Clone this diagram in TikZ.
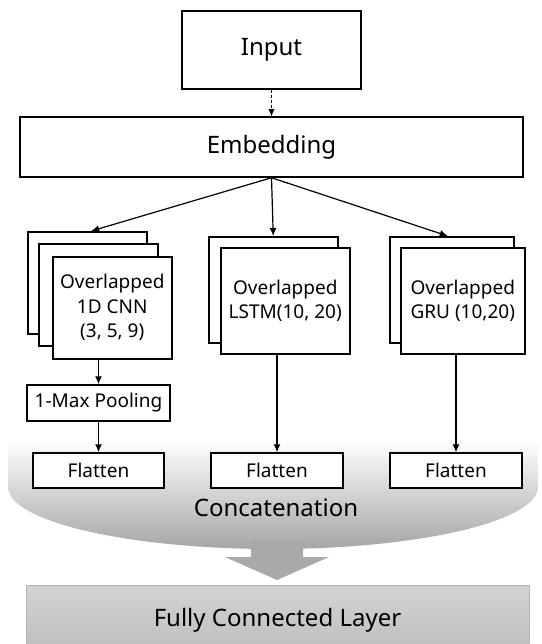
\documentclass[tikz,border=0pt]{standalone}
\usepackage{fontspec}
\setmainfont{Noto Sans}
\usepackage{tikz}
\usetikzlibrary{arrows.meta,positioning,calc}
\definecolor{bowlgray}{HTML}{A6A6A6}
\definecolor{arrowgray}{HTML}{A9A9A9}
\definecolor{fctop}{HTML}{D3D3D3}
\definecolor{fcbot}{HTML}{BDBDBD}
\definecolor{fcedge}{HTML}{B4B4B4}
\newcommand{\bigfont}{\fontsize{24}{28}\selectfont}
\newcommand{\boxfont}{\fontsize{19}{24.5}\selectfont}
\newcommand{\hugefont}{\fontsize{24}{28}\selectfont}
\tikzset{
  block/.style    = {draw, line width=1.5pt, rectangle, fill=white,
                     align=center, inner sep=0pt},
  stackbox/.style = {block, anchor=north west, font=\boxfont},
  sig/.style      = {-{Latex[length=8pt,width=7pt]}, line width=1.2pt},
}

\begin{document}
\begin{tikzpicture}[x=1pt,y=-1pt]
\useasboundingbox (0,0) rectangle (541,644);
% concatenation bowl and arrow
\shade[top color=white, bottom color=bowlgray]
  (8,440) -- (8,487) .. controls (8,521) and (126,549) .. (273,549)
  .. controls (420,549) and (538,521) .. (538,487) -- (538,440) -- cycle;
\fill[arrowgray] (251,540) -- (251,557) -- (225,557) -- (277,580)
  -- (329,557) -- (303,557) -- (303,540) -- cycle;
\node[font=\hugefont] (concat) at (276,508) {Concatenation};

\node[block, minimum width=179pt, minimum height=78pt, font=\bigfont] (input) at (271.5,50) {Input};
\node[block, minimum width=503pt, minimum height=60pt, font=\bigfont] (emb) at (271.5,147) {Embedding};

% CNN stack
\node[stackbox, minimum width=119pt, minimum height=102pt] (cnnA) at (27,231) {};
\node[stackbox, minimum width=119pt, minimum height=102pt] (cnnB) at ($(cnnA.north west)+(11,12)$) {};
\node[stackbox, minimum width=119pt, minimum height=102pt] (cnnC) at ($(cnnA.north west)+(25,25)$)
   {Overlapped\\1D CNN\\(3, 5, 9)};
% LSTM stack
\node[stackbox, minimum width=129pt, minimum height=106pt] (lstmA) at (208,236) {};
\node[stackbox, minimum width=129pt, minimum height=106pt] (lstmB) at ($(lstmA.north west)+(12,11)$)
   {Overlapped\\LSTM(10, 20)};
% GRU stack
\node[stackbox, minimum width=124pt, minimum height=106pt] (gruA) at (389,236) {};
\node[stackbox, minimum width=124pt, minimum height=106pt] (gruB) at ($(gruA.north west)+(11,11)$)
   {Overlapped\\GRU (10,20)};

\node[block, minimum width=143pt, minimum height=36pt, font=\boxfont] (pool) at (98.5,403) {1-Max Pooling};
\node[block, minimum width=131pt, minimum height=35pt, font=\boxfont] (flatA) at (98.5,470.5) {Flatten};
\node[block, minimum width=132pt, minimum height=35pt, font=\boxfont] (flatB) at (277,470.5) {Flatten};
\node[block, minimum width=132pt, minimum height=35pt, font=\boxfont] (flatC) at (456,470.5) {Flatten};

\node[draw=fcedge, line width=0.8pt, top color=fctop, bottom color=fcbot,
      minimum width=503pt, minimum height=70pt, font=\hugefont] (fc) at (277.5,620) {Fully Connected Layer};

\draw[-{Latex[length=7pt,width=6pt]}, line width=0.6pt, densely dashed] (input) -- (emb);
\draw[sig] (emb.south) -- ($(cnnA.north)+(4,0)$);
\draw[sig] (emb.south) -- (lstmA.north);
\draw[sig] (emb.south) -- ($(gruA.north)+(-4,0)$);
\draw[sig] (cnnC.south -| pool.north) -- (pool.north);
\draw[sig] (pool) -- (flatA);
\draw[sig] (lstmB.south -| flatB.north) -- (flatB);
\draw[sig] (gruB.south -| flatC.north) -- (flatC);
\end{tikzpicture}
\end{document}
